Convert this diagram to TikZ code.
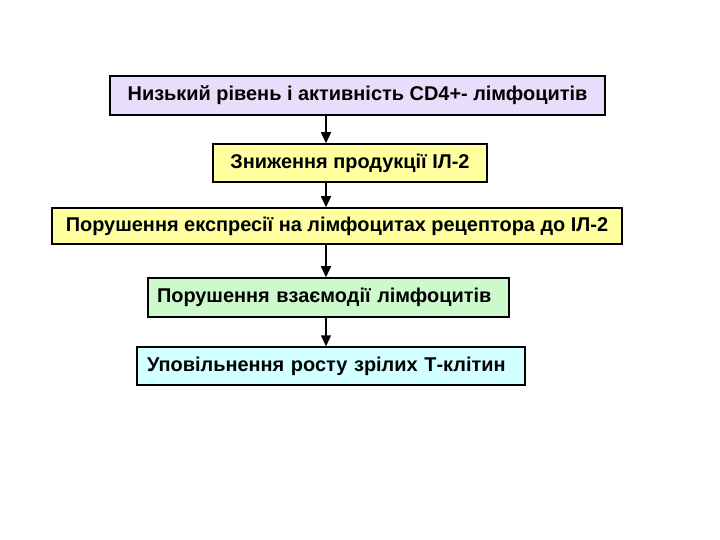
\documentclass[tikz,border=0pt]{standalone}
\usepackage{fontspec}
\setmainfont{Liberation Sans}
\usetikzlibrary{arrows.meta}

\definecolor{lilac}{RGB}{230,222,250}
\definecolor{paleyellow}{RGB}{255,255,160}
\definecolor{palegreen}{RGB}{204,250,204}
\definecolor{palecyan}{RGB}{210,255,255}

\begin{document}
\begin{tikzpicture}[x=1bp,y=-1bp]
\tikzstyle{every node}+=[inner sep=0pt]
\tikzstyle{box}=[draw=black, line width=1.5bp, font=\bfseries\fontsize{20}{24}\selectfont]
\tikzstyle{link}=[black, line width=1.5bp, -{Triangle[length=11bp,width=10bp]}]
\useasboundingbox (0,0) rectangle (720,540);
\node [box, fill=lilac, minimum width=495bp, minimum height=39bp] (low) at (357.5,95.5) {Низький рівень і активність CD4+- лімфоцитів};
\node [box, fill=paleyellow, minimum width=274bp, minimum height=38bp] (il) at (350,163) {Зниження продукції ІЛ-2};
\node [box, fill=paleyellow, minimum width=570bp, minimum height=36bp] (expr) at (337,226) {Порушення експресії на лімфоцитах рецептора до ІЛ-2};
\node [box, fill=palegreen, minimum width=361bp, minimum height=39bp, text width=343bp, align=left] (inter) at (328.5,297.5) {Порушення взаємодії лімфоцитів};
\node [box, fill=palecyan, minimum width=388bp, minimum height=38bp, text width=368bp, align=left] (slow) at (331,366) {Уповільнення росту зрілих Т-клітин};
\coordinate (axis) at (326,0);
\draw [link] (low.south -| axis) -- (il.north -| axis);
\draw [link] (il.south -| axis) -- (expr.north -| axis);
\draw [link] (expr.south -| axis) -- (inter.north -| axis);
\draw [link] (inter.south -| axis) -- (slow.north -| axis);
\end{tikzpicture}
\end{document}
